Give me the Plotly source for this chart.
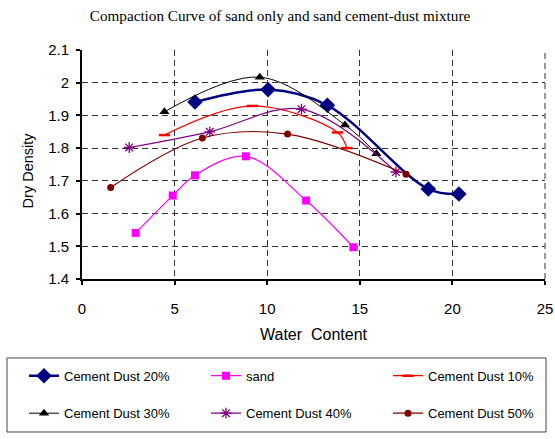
import plotly.graph_objects as go

# Data
cd20_x = [6.1, 10.05, 13.25, 18.7, 20.35]
cd20_y = [1.941, 1.979, 1.931, 1.675, 1.660]

sand_x = [2.9, 4.9, 6.1, 8.85, 12.1, 14.65]
sand_y = [1.541, 1.655, 1.717, 1.775, 1.640, 1.497]

cd10_x = [4.45, 9.2, 13.8, 14.3]
cd10_y = [1.840, 1.929, 1.848, 1.800]

cd30_x = [4.45, 9.6, 14.2, 15.9]
cd30_y = [1.911, 2.017, 1.871, 1.783]

cd40_x = [2.55, 6.9, 11.85, 16.95]
cd40_y = [1.802, 1.850, 1.919, 1.727]

cd50_x = [1.55, 6.5, 11.1, 17.5]
cd50_y = [1.680, 1.831, 1.843, 1.720]

x_ticks = [0, 5, 10, 15, 20, 25]

fig = go.Figure()

def add(name, xs, ys, color, symbol, size, lw, legend, mline=0):
    fig.add_trace(go.Scatter(
        x=xs, y=ys, name=name, mode="lines+markers", legend=legend,
        line=dict(color=color, width=lw, shape="spline", smoothing=1),
        marker=dict(symbol=symbol, size=size, color=color,
                    line=dict(color=color, width=mline)),
    ))

add("Cement Dust 20%", cd20_x, cd20_y, "#000080", "diamond", 12, 2.5, "legend")
add("sand", sand_x, sand_y, "#FF00FF", "square", 8, 1.2, "legend2")
add("Cement Dust 10%", cd10_x, cd10_y, "#FF0000", "line-ew-open", 8, 1.2, "legend3", 2.5)
add("Cement Dust 30%", cd30_x, cd30_y, "#000000", "triangle-up", 9, 1, "legend4")
add("Cement Dust 40%", cd40_x, cd40_y, "#800080", "asterisk-open", 9, 1.2, "legend5", 1.3)
add("Cement Dust 50%", cd50_x, cd50_y, "#800000", "circle", 7, 1.2, "legend6")

W, H = 555, 439
L, R, T, B = 82, 10, 50, 157
pw, ph = W - L - R, H - T - B

def px2x(px):
    return (px - L) / pw

def py2y(py):
    return (H - B - py) / ph

leg_font = dict(family="Liberation Sans, Arial", size=13, color="black")
def leg(px, py):
    return dict(x=px2x(px), xanchor="left", y=py2y(py), yanchor="middle",
                bgcolor="rgba(0,0,0,0)", borderwidth=0, font=leg_font,
                orientation="v")

fig.update_layout(
    width=W, height=H,
    margin=dict(l=L, r=R, t=T, b=B),
    paper_bgcolor="white", plot_bgcolor="white",
    font=dict(family="Liberation Sans, Arial", size=15, color="black"),
    title=dict(text="Compaction Curve of sand only and sand cement-dust mixture",
               font=dict(family="Liberation Serif, Times New Roman", size=15.2, color="black"),
               x=280 / W, xanchor="center", y=1 - 16 / H, yanchor="middle"),
    showlegend=True,
    legend=leg(24, 380),
    legend2=leg(206, 380),
    legend3=leg(388, 380),
    legend4=leg(24, 418),
    legend5=leg(206, 418),
    legend6=leg(388, 418),
)

fig.update_xaxes(
    range=[0, 25], tickvals=x_ticks, showline=True, linecolor="black", linewidth=2,
    ticks="outside", ticklen=4, tickwidth=2, tickcolor="black",
    showgrid=True, gridcolor="#333", griddash="6px,4px", gridwidth=1,
    zeroline=False, automargin=False, ticklabelstandoff=11,
    ticklabeloverflow="allow",
    tickfont=dict(size=15),
)
fig.update_yaxes(
    range=[1.4, 2.1], dtick=0.1, showline=True, linecolor="black", linewidth=2,
    ticks="outside", ticklen=4, tickwidth=2, tickcolor="black",
    showgrid=True, gridcolor="#333", griddash="6px,4px", gridwidth=1,
    zeroline=False, automargin=False, ticklabelstandoff=4,
    tickfont=dict(size=15),
)

# axis titles placed at the reference positions
fig.add_annotation(text="Dry Density", xref="paper", yref="paper",
                   x=px2x(28), y=py2y(172), xanchor="center", yanchor="middle",
                   textangle=-90, showarrow=False,
                   font=dict(family="Liberation Sans, Arial", size=14.5, color="black"))
fig.add_annotation(text="Water\u00a0 Content", xref="paper", yref="paper",
                   x=px2x(314), y=py2y(338), xanchor="center", yanchor="middle",
                   showarrow=False,
                   font=dict(family="Liberation Sans, Arial", size=16, color="black"))

# dashed gray frame on the right edge
fig.add_shape(type="line", xref="paper", yref="paper", x0=1, x1=1, y0=0, y1=1,
              line=dict(color="#777", width=1.5, dash="6px,4px"))

# legend frame
fig.add_shape(type="rect", xref="paper", yref="paper",
              x0=px2x(7), x1=px2x(546), y0=py2y(362), y1=py2y(437),
              line=dict(color="#444", width=1), fillcolor="rgba(0,0,0,0)")

fig.write_html("out.html",
               post_script="document.body.style.margin='0';document.body.style.overflow='hidden';",
               config={"displayModeBar": False})
